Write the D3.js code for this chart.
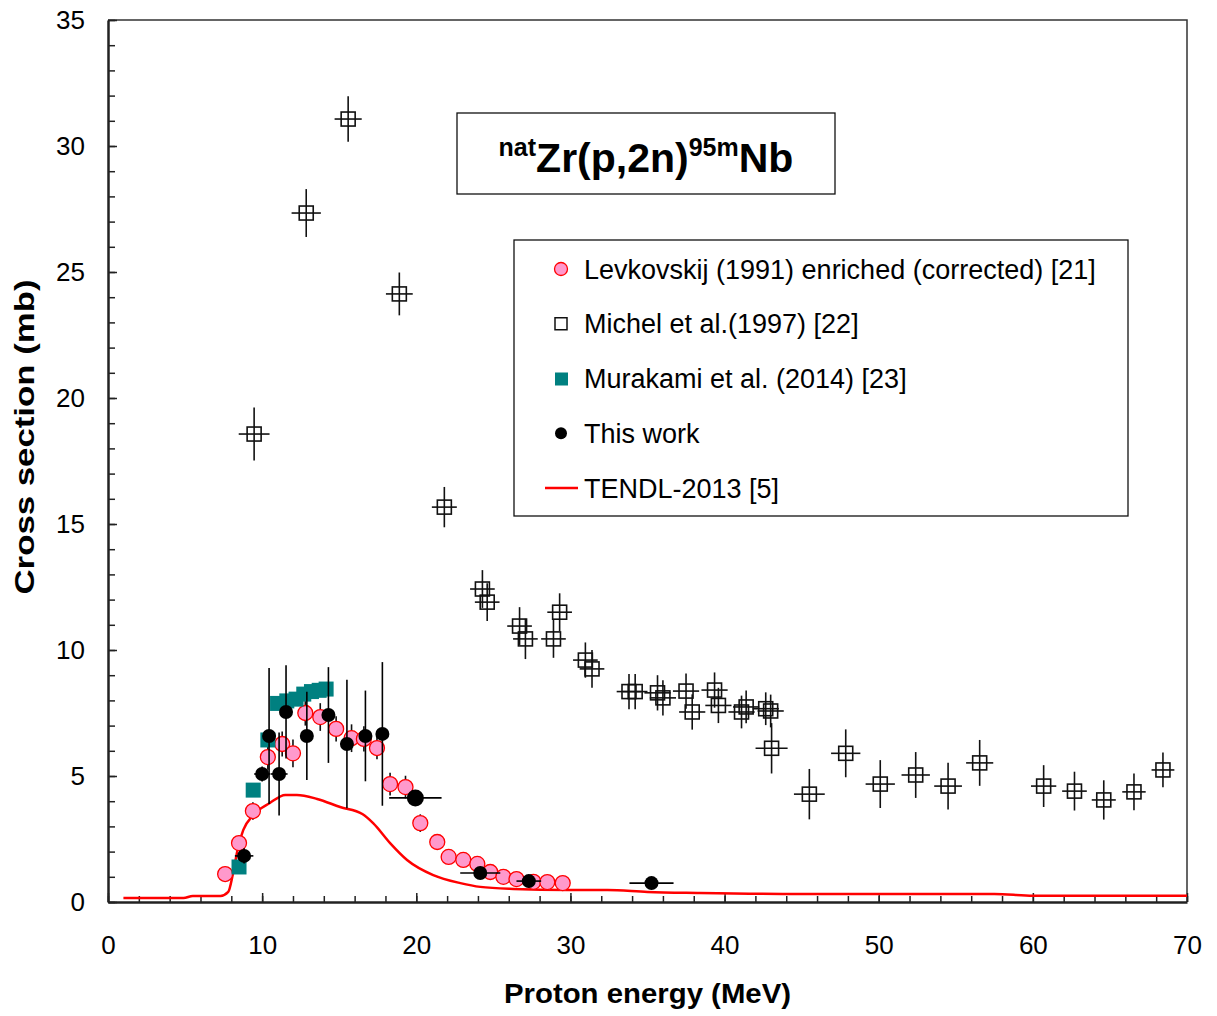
<!DOCTYPE html>
<html>
<head>
<meta charset="utf-8">
<script src="https://cdn.jsdelivr.net/npm/d3@7"></script>
<style>
  body { margin: 0; background: #fff; }
  text { font-family: "Liberation Sans", Arial, sans-serif; }
</style>
</head>
<body>
<svg id="chart" width="1217" height="1016"></svg>
<script>
// Levkovskij (1991) enriched (corrected)
const levE  = [7.6, 8.5, 9.4, 10.37, 11.3, 12.0, 12.8, 13.77, 14.8, 15.8, 16.6, 17.45, 18.3, 19.3, 20.26, 21.36, 22.1, 23.05, 23.96, 24.8, 25.65, 26.5, 27.6, 28.5, 29.5];
const levY  = [1.11, 2.34, 3.61, 5.75, 6.27, 5.9, 7.5, 7.34, 6.87, 6.5, 6.47, 6.11, 4.68, 4.56, 3.13, 2.38, 1.79, 1.67, 1.51, 1.19, 1.0, 0.91, 0.8, 0.79, 0.75];
const levDY = [0.2, 0.3, 0.35, 0.5, 0.5, 0.55, 0.5, 0.55, 0.5, 0.55, 0.5, 0.45, 0.45, 0.45, 0.35, 0.3, 0.25, 0.2, 0.2, 0.15, 0.15, 0.12, 0.1, 0.1, 0.1];

// Michel et al. (1997)
const micE  = [9.48, 12.86, 15.58, 18.9, 21.82, 24.29, 24.6, 26.7, 27.08, 28.9, 29.3, 30.97, 31.4, 33.8, 34.2, 35.65, 36.0, 37.5, 37.9, 39.35, 39.6, 41.1, 41.4, 42.67, 42.99, 43.05, 45.5, 47.86, 50.1, 52.4, 54.5, 56.55, 60.7, 62.7, 64.6, 66.56, 68.44];
const micY  = [18.57, 27.34, 31.07, 24.13, 15.67, 12.42, 11.9, 10.95, 10.44, 10.44, 11.5, 9.6, 9.25, 8.35, 8.35, 8.3, 8.1, 8.37, 7.54, 8.41, 7.8, 7.54, 7.74, 7.67, 7.58, 6.1, 4.28, 5.9, 4.68, 5.04, 4.6, 5.52, 4.6, 4.4, 4.05, 4.37, 5.24];
const micDY = [1.05, 0.95, 0.9, 0.85, 0.8, 0.75, 0.75, 0.75, 0.8, 0.75, 0.75, 0.7, 0.75, 0.7, 0.7, 0.7, 0.7, 0.7, 0.7, 0.7, 0.7, 0.65, 0.65, 0.65, 0.65, 1.0, 1.0, 0.95, 0.95, 0.91, 0.93, 0.91, 0.83, 0.77, 0.78, 0.73, 0.69];
const micDE = [1.0, 0.95, 0.88, 0.87, 0.81, 0.8, 0.8, 0.8, 0.8, 0.8, 0.8, 0.8, 0.8, 0.8, 0.8, 0.85, 0.85, 0.85, 0.85, 0.85, 0.85, 0.85, 0.85, 0.85, 0.85, 1.04, 1.0, 0.95, 0.95, 0.92, 0.9, 0.88, 0.82, 0.8, 0.78, 0.76, 0.74];

// Murakami et al. (2014)
const murE = [8.5, 9.42, 10.37, 11.0, 11.6, 12.2, 12.7, 13.2, 13.7, 14.15];
const murY = [1.39, 4.44, 6.43, 7.88, 7.98, 8.05, 8.25, 8.35, 8.4, 8.45];

// This work
const thisE  = [8.83, 10.0, 10.45, 11.1, 11.55, 12.9, 14.3, 15.5, 16.7, 17.8, 19.94, 24.15, 27.3, 35.26];
const thisY  = [1.83, 5.08, 6.59, 5.08, 7.54, 6.59, 7.42, 6.27, 6.59, 6.67, 4.13, 1.15, 0.83, 0.75];
const thisDY = [0.3, 0.3, 2.7, 1.65, 1.85, 1.75, 1.9, 2.55, 1.8, 2.85, 0.3, 0.15, 0.1, 0.1];
const thisDE = [0.6, 0.52, 0.1, 0.55, 0.1, 0.1, 0.1, 0.1, 0.1, 0.1, 1.7, 1.3, 0.8, 1.43];

// TENDL-2013
const tendlE = [1, 4.9, 5.5, 7.3, 7.8, 8.1, 8.45, 8.78, 9.42, 10.5, 11.5, 12.25, 13.57, 15.06, 16.5, 17.2, 18.3, 19.4, 21.1, 22.86, 24.15, 26.3, 29.8, 32.4, 35.0, 38.4, 45, 57.5, 60, 70];
const tendlY = [0.16, 0.16, 0.24, 0.24, 0.4, 1.1, 2.2, 2.86, 3.45, 3.93, 4.25, 4.25, 4.09, 3.77, 3.49, 3.13, 2.34, 1.67, 1.07, 0.75, 0.6, 0.52, 0.48, 0.48, 0.4, 0.36, 0.32, 0.32, 0.25, 0.25];

const legendLabels = ["Levkovskij (1991) enriched (corrected) [21]", "Michel et al.(1997) [22]", "Murakami et al. (2014) [23]", "This work", "TENDL-2013 [5]"];

const width = 1217, height = 1016;
const margin = {top: 20, right: 30, bottom: 114, left: 108};
const w = width - margin.left - margin.right;
const h = height - margin.top - margin.bottom;

const svg = d3.select("#chart");
const g = svg.append("g").attr("transform", `translate(${margin.left},${margin.top})`);

const x = d3.scaleLinear().domain([0, 70]).range([0, w]);
const y = d3.scaleLinear().domain([0, 35]).range([h, 0]);

// frame (top / right)
g.append("path")
    .attr("d", `M0,0H${w}V${h}`)
    .attr("fill", "none")
    .attr("stroke", "#333")
    .attr("stroke-width", 1.5);

// minor ticks
g.append("g")
    .attr("transform", `translate(0,${h})`)
    .call(d3.axisBottom(x).tickValues(d3.range(0, 71, 2)).tickSize(-6).tickFormat(""))
    .call(a => a.select(".domain").remove());
g.append("g")
    .call(d3.axisLeft(y).tickValues(d3.range(0, 36, 1)).tickSize(-7).tickFormat(""))
    .call(a => a.select(".domain").remove());

// major axes
const xAxis = g.append("g")
    .attr("transform", `translate(0,${h})`)
    .call(d3.axisBottom(x).tickValues(d3.range(0, 71, 10)).tickSize(-9).tickPadding(34).tickSizeOuter(0));
const yAxis = g.append("g")
    .call(d3.axisLeft(y).tickValues(d3.range(0, 36, 5)).tickSize(-9).tickPadding(23).tickSizeOuter(0));

[xAxis, yAxis].forEach(a => {
    a.select(".domain").attr("stroke", "#222").attr("stroke-width", 2.5);
    a.selectAll("text").attr("font-size", 26).attr("fill", "#000")
        .style("font-family", "'Liberation Sans', Arial, sans-serif");
});
g.selectAll(".tick line").attr("stroke", "#222").attr("stroke-width", 1.5);

// axis titles
svg.append("text")
    .attr("x", margin.left + w / 2)
    .attr("y", 1003)
    .attr("text-anchor", "middle")
    .attr("font-size", 28)
    .attr("font-weight", "bold")
    .attr("textLength", 287)
    .attr("lengthAdjust", "spacingAndGlyphs")
    .text("Proton energy (MeV)");

svg.append("text")
    .attr("transform", "translate(34,437) rotate(-90)")
    .attr("text-anchor", "middle")
    .attr("font-size", 28)
    .attr("font-weight", "bold")
    .attr("textLength", 315)
    .attr("lengthAdjust", "spacingAndGlyphs")
    .text("Cross section (mb)");

// TENDL line
const tendl = tendlE.map((e, i) => [e, tendlY[i]]);
g.append("path")
    .datum(tendl)
    .attr("fill", "none")
    .attr("stroke", "#ff0000")
    .attr("stroke-width", 2.5)
    .attr("d", d3.line().x(d => x(d[0])).y(d => y(d[1])).curve(d3.curveMonotoneX));

// error bar helper
function errorBars(sel, es, ys, dys, des, color) {
    const data = es.map((e, i) => ({e, v: ys[i], dy: dys ? dys[i] : 0, de: des ? des[i] : 0}));
    const eb = sel.append("g").attr("stroke", color).attr("stroke-width", 1.6);
    eb.selectAll(".v").data(data.filter(d => d.dy > 0)).join("line")
        .attr("x1", d => x(d.e)).attr("x2", d => x(d.e))
        .attr("y1", d => y(d.v - d.dy)).attr("y2", d => y(d.v + d.dy));
    eb.selectAll(".h").data(data.filter(d => d.de > 0)).join("line")
        .attr("x1", d => x(d.e - d.de)).attr("x2", d => x(d.e + d.de))
        .attr("y1", d => y(d.v)).attr("y2", d => y(d.v));
}

// Michel: open squares
const mic = g.append("g");
errorBars(mic, micE, micY, micDY, micDE, "#111");
mic.selectAll("rect").data(micE.map((e, i) => [e, micY[i]])).join("rect")
    .attr("x", d => x(d[0]) - 7).attr("y", d => y(d[1]) - 7)
    .attr("width", 14).attr("height", 14)
    .attr("fill", "none").attr("stroke", "#111").attr("stroke-width", 1.6);

// Levkovskij: pink circles
const lev = g.append("g");
errorBars(lev, levE, levY, levDY, null, "#111");
lev.selectAll("circle").data(levE.map((e, i) => [e, levY[i]])).join("circle")
    .attr("cx", d => x(d[0])).attr("cy", d => y(d[1])).attr("r", 7.5)
    .attr("fill", "#ff99cc").attr("stroke", "#ff0000").attr("stroke-width", 1.3);

// Murakami: teal squares
g.append("g").selectAll("rect").data(murE.map((e, i) => [e, murY[i]])).join("rect")
    .attr("x", d => x(d[0]) - 7.5).attr("y", d => y(d[1]) - 7.5)
    .attr("width", 15).attr("height", 15)
    .attr("fill", "#008080");

// This work: black dots
const tw = g.append("g");
errorBars(tw, thisE, thisY, thisDY, thisDE, "#000");
tw.selectAll("circle").data(thisE.map((e, i) => [e, thisY[i]])).join("circle")
    .attr("cx", d => x(d[0])).attr("cy", d => y(d[1]))
    .attr("r", (d, i) => i === 10 ? 8.5 : 7)
    .attr("fill", "#000");

// title box
svg.append("rect")
    .attr("x", 457).attr("y", 113).attr("width", 378).attr("height", 81)
    .attr("fill", "#fff").attr("stroke", "#111").attr("stroke-width", 1.3);
const title = svg.append("text")
    .attr("x", 646).attr("y", 172)
    .attr("text-anchor", "middle")
    .attr("font-weight", "bold")
    .attr("font-size", 41);
title.append("tspan").attr("font-size", 25).attr("dy", -16).text("nat");
title.append("tspan").attr("dy", 16).text("Zr(p,2n)");
title.append("tspan").attr("font-size", 25).attr("dy", -16).text("95m");
title.append("tspan").attr("dy", 16).text("Nb");

// legend
const lg = svg.append("g");
lg.append("rect")
    .attr("x", 514).attr("y", 240).attr("width", 614).attr("height", 276)
    .attr("fill", "#fff").attr("stroke", "#111").attr("stroke-width", 1.3);
const rowY = d3.scalePoint().domain(legendLabels).range([269, 488]);
legendLabels.forEach((lab, i) => {
    const cy = rowY(lab);
    if (i === 0) lg.append("circle").attr("cx", 561).attr("cy", cy).attr("r", 6.5)
        .attr("fill", "#ff99cc").attr("stroke", "#ff0000").attr("stroke-width", 1.3);
    if (i === 1) lg.append("rect").attr("x", 555).attr("y", cy - 6).attr("width", 12).attr("height", 12)
        .attr("fill", "none").attr("stroke", "#111").attr("stroke-width", 1.5);
    if (i === 2) lg.append("rect").attr("x", 555).attr("y", cy - 6).attr("width", 13).attr("height", 13)
        .attr("fill", "#008080");
    if (i === 3) lg.append("circle").attr("cx", 561).attr("cy", cy).attr("r", 6).attr("fill", "#000");
    if (i === 4) lg.append("line").attr("x1", 545).attr("x2", 578).attr("y1", cy).attr("y2", cy)
        .attr("stroke", "#ff0000").attr("stroke-width", 2.5);
    lg.append("text")
        .attr("x", 584).attr("y", cy).attr("dy", "0.36em")
        .attr("font-size", 27)
        .text(lab);
});
</script>
</body>
</html>
